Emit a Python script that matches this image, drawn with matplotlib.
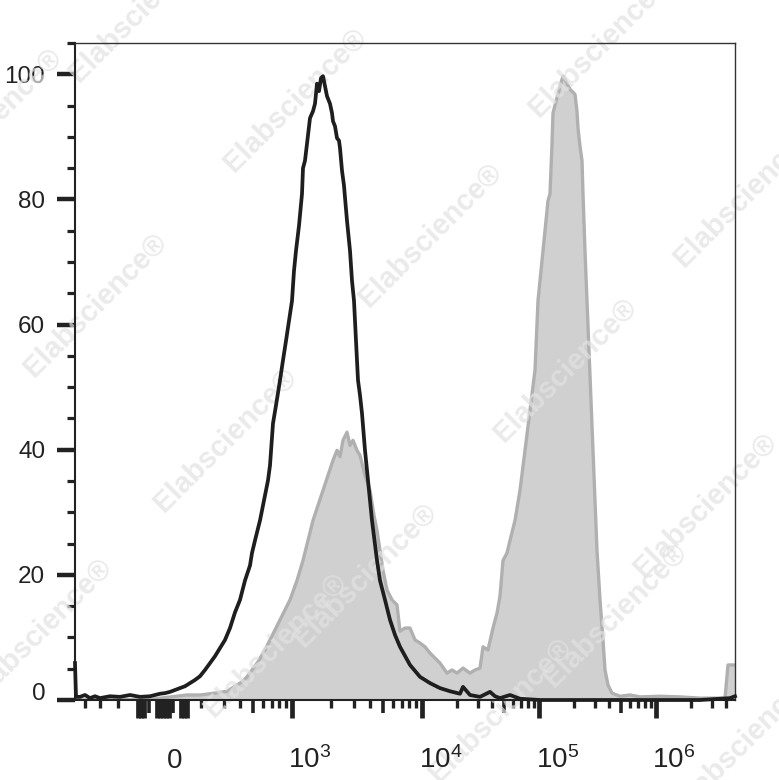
import numpy as np
import matplotlib
matplotlib.use("Agg")
import matplotlib.pyplot as plt
import matplotlib.transforms as mtransforms

plt.rcParams['font.family'] = ['Liberation Sans Narrow', 'Liberation Sans', 'DejaVu Sans']
plt.rcParams['mathtext.fontset'] = 'custom'
plt.rcParams['mathtext.rm'] = 'Liberation Sans Narrow'

# channel position (0-660 across the axis) and % of max
black_ch = [0, 1, 5, 10, 15, 20, 25, 35, 45, 55, 65, 75, 85, 90, 95, 100, 105, 110, 115, 120,
            125, 130, 135, 140, 145, 150, 155, 160, 165, 170, 175, 177, 180, 185, 188, 191, 193, 195, 198, 201,
            205, 208, 211, 214, 217, 219, 221, 224, 227, 228, 230, 232, 235, 238, 240, 242, 244, 246, 248, 250,
            252, 255, 257, 258, 260, 262, 264, 265, 267, 269, 270, 272, 274, 275, 277, 279, 281, 283, 285, 287,
            290, 293, 297, 302, 305, 310, 315, 320, 325, 335, 345, 355, 365, 375, 385, 388, 395, 405, 415, 420,
            425, 435, 445, 465, 525, 625, 655, 660]
black_y = [5.9, 0.5, 0.5, 0.8, 0.3, 0.6, 0.3, 0.6, 0.5, 0.8, 0.5, 0.6, 1.0, 1.1, 1.3, 1.6, 1.9, 2.2, 2.7, 3.2,
           3.8, 4.8, 5.9, 7.0, 8.3, 9.6, 11.5, 14.0, 16.0, 19.1, 21.5, 23.5, 25.5, 28.7, 31.1, 33.5, 35.1, 37.5, 44.2, 47.1,
           51.1, 54.3, 57.4, 60.6, 63.8, 68.6, 71.8, 75.8, 80.9, 85.0, 86.2, 88.9, 93.0, 94.1, 95.3, 98.5, 97.3, 99.4, 99.7, 98.1,
           96.5, 95.3, 93.8, 92.5, 91.7, 89.8, 89.4, 88.2, 84.6, 82.2, 80.3, 76.6, 73.4, 71.8, 67.0, 63.8, 57.4, 51.1, 48.7, 45.8,
           39.9, 35.1, 28.7, 22.3, 19.1, 16.0, 12.8, 10.4, 8.5, 5.6, 3.7, 2.7, 1.9, 1.4, 1.0, 2.1, 0.8, 0.5, 1.3, 0.6,
           0.3, 0.8, 0.2, 0, 0, 0, 0.3, 0.6]

gray_ch = [0, 75, 112, 125, 140, 152, 160, 167, 172, 177, 183, 190, 195, 205, 215, 222, 228, 233, 238, 243,
           248, 253, 258, 262, 265, 268, 272, 275, 278, 282, 285, 290, 295, 299, 302, 305, 308, 312, 317, 322,
           325, 330, 335, 340, 345, 350, 355, 360, 365, 372, 377, 382, 388, 395, 400, 405, 408, 413, 418, 422,
           425, 428, 432, 435, 440, 445, 450, 455, 460, 463, 468, 473, 475, 477, 478, 481, 483, 485, 488, 491,
           495, 500, 502, 503, 505, 507, 508, 510, 512, 514, 516, 518, 520, 522, 525, 528, 530, 533, 537, 545,
           555, 565, 585, 605, 625, 650, 653, 660]
gray_y = [0, 0.1, 0.8, 0.8, 1.1, 1.4, 2.2, 2.9, 3.7, 4.8, 6.1, 8.0, 9.6, 12.8, 16.0, 19.1, 22.3, 25.5, 28.7, 31.1,
          33.5, 35.9, 38.3, 39.9, 38.9, 41.5, 42.8, 40.7, 41.5, 39.9, 39.1, 35.9, 33.5, 29.5, 27.1, 23.9, 20.7, 17.6, 16.0, 15.2,
          11.0, 11.5, 11.5, 9.6, 9.1, 8.5, 7.5, 6.7, 5.9, 4.3, 4.8, 4.3, 5.1, 4.3, 4.8, 5.1, 8.5, 8.0, 11.5, 13.9,
          16.6, 22.3, 23.5, 25.5, 28.7, 33.5, 39.9, 46.3, 52.7, 63.8, 71.8, 79.8, 80.9, 88.9, 93.8, 95.7, 96.8, 98.1, 99.7, 98.9,
          97.6, 96.8, 94.1, 91.4, 88.5, 86.2, 80.9, 71.8, 63.8, 55.8, 47.9, 39.9, 31.9, 23.9, 16.0, 9.6, 4.8, 2.4, 1.1, 0.6,
          0.8, 0.5, 0.6, 0.5, 0.3, 0.3, 5.6, 5.6]

# axis decoration
x_labels = ['0', r'$\mathregular{10^3}$', r'$\mathregular{10^4}$', r'$\mathregular{10^5}$', r'$\mathregular{10^6}$']
x_label_pos = [100, 235, 366, 483, 599]
decade_pos = [217, 347, 464, 581]          # 10^3 .. 10^6
decade_width = [130, 130, 117, 117, 117]  # 10^2..10^3, then each decade
neg_long = [63, 66, 69, 82, 85, 88, 91, 94, 106, 109, 112]
neg_mid = [74, 98]
neg_short = [10, 25, 43]

wm_text = 'Elabscience\u00ae'
wm_xy = [(140, 10), (295, 100), (600, 45), (745, 195), (-10, 120), (430, 235), (95, 305),
         (565, 370), (225, 440), (705, 505), (365, 575), (40, 630), (275, 645), (500, 710),
         (615, 615), (745, 740)]

# minor ticks on the log part
k = np.arange(2, 10)
short_ticks, mid_ticks = list(neg_short), list(neg_mid)
starts = [decade_pos[0] - decade_width[0]] + decade_pos
for s, w in zip(starts, decade_width):
    for kk in k:
        p = s + w * np.log10(kk)
        if p > 660:
            continue
        (mid_ticks if kk == 5 else short_ticks).append(p)

fig = plt.figure(figsize=(7.79, 7.80), dpi=100)
ax = fig.add_axes([75 / 779, 80 / 780, 660 / 779, 657 / 780])

ax.fill_between(gray_ch, gray_y, 0, color='#d0d0d0', lw=0, zorder=1)
ax.plot(gray_ch, gray_y, color='#b0b0b0', lw=2.4, zorder=1.5)

for (px, py) in wm_xy:
    ax.text(px / 779, 1 - py / 780, wm_text, transform=fig.transFigure, rotation=45,
            ha='center', va='center', fontsize=21, fontweight='bold',
            family='Liberation Sans', color='#e2e2e2', alpha=0.7, zorder=2, clip_on=False)

ax.plot(black_ch, black_y, color='#1e1e1e', lw=2.7, zorder=3, clip_on=False)

ax.set_xlim(0, 660)
ax.set_ylim(0, 105)

ax.set_yticks([0, 20, 40, 60, 80, 100])
ax.set_yticks(np.arange(0, 106, 5), minor=True)
ax.tick_params(axis='y', which='major', length=13, width=3.2, pad=8.5, labelsize=17.5,
               colors='#222222', direction='out')
ax.tick_params(axis='y', which='minor', length=6, width=2.3, color='#222222', direction='out')

ax.set_xticks(decade_pos + neg_long)
ax.set_xticklabels([])
ax.set_xticks(short_ticks, minor=True)
ax.tick_params(axis='x', which='major', length=13, width=3.4, color='#222222')
ax.tick_params(axis='x', which='minor', length=6, width=2.4, color='#222222')

sec = ax.secondary_xaxis('bottom')
sec.set_xticks(mid_ticks)
sec.set_xticklabels([])
sec.tick_params(axis='x', length=9, width=2.6, color='#222222')
sec.spines['bottom'].set_visible(False)

trans = mtransforms.blended_transform_factory(ax.transData, ax.transAxes)
for pos, lab in zip(x_label_pos, x_labels):
    ax.text(pos, -68 / 657, lab, transform=trans, ha='center', va='baseline',
            fontsize=20, color='#222222')

for side in ['top', 'right']:
    ax.spines[side].set_linewidth(1.0)
    ax.spines[side].set_color('#333333')
for side in ['left', 'bottom']:
    ax.spines[side].set_linewidth(1.5)
    ax.spines[side].set_color('#222222')

# lift the "0" label a little, as in the original
lbl = ax.yaxis.get_major_ticks()[0].label1
lbl.set_transform(lbl.get_transform() + mtransforms.ScaledTranslation(0, 0.08, fig.dpi_scale_trans))

fig.savefig('out.png', dpi=100)
